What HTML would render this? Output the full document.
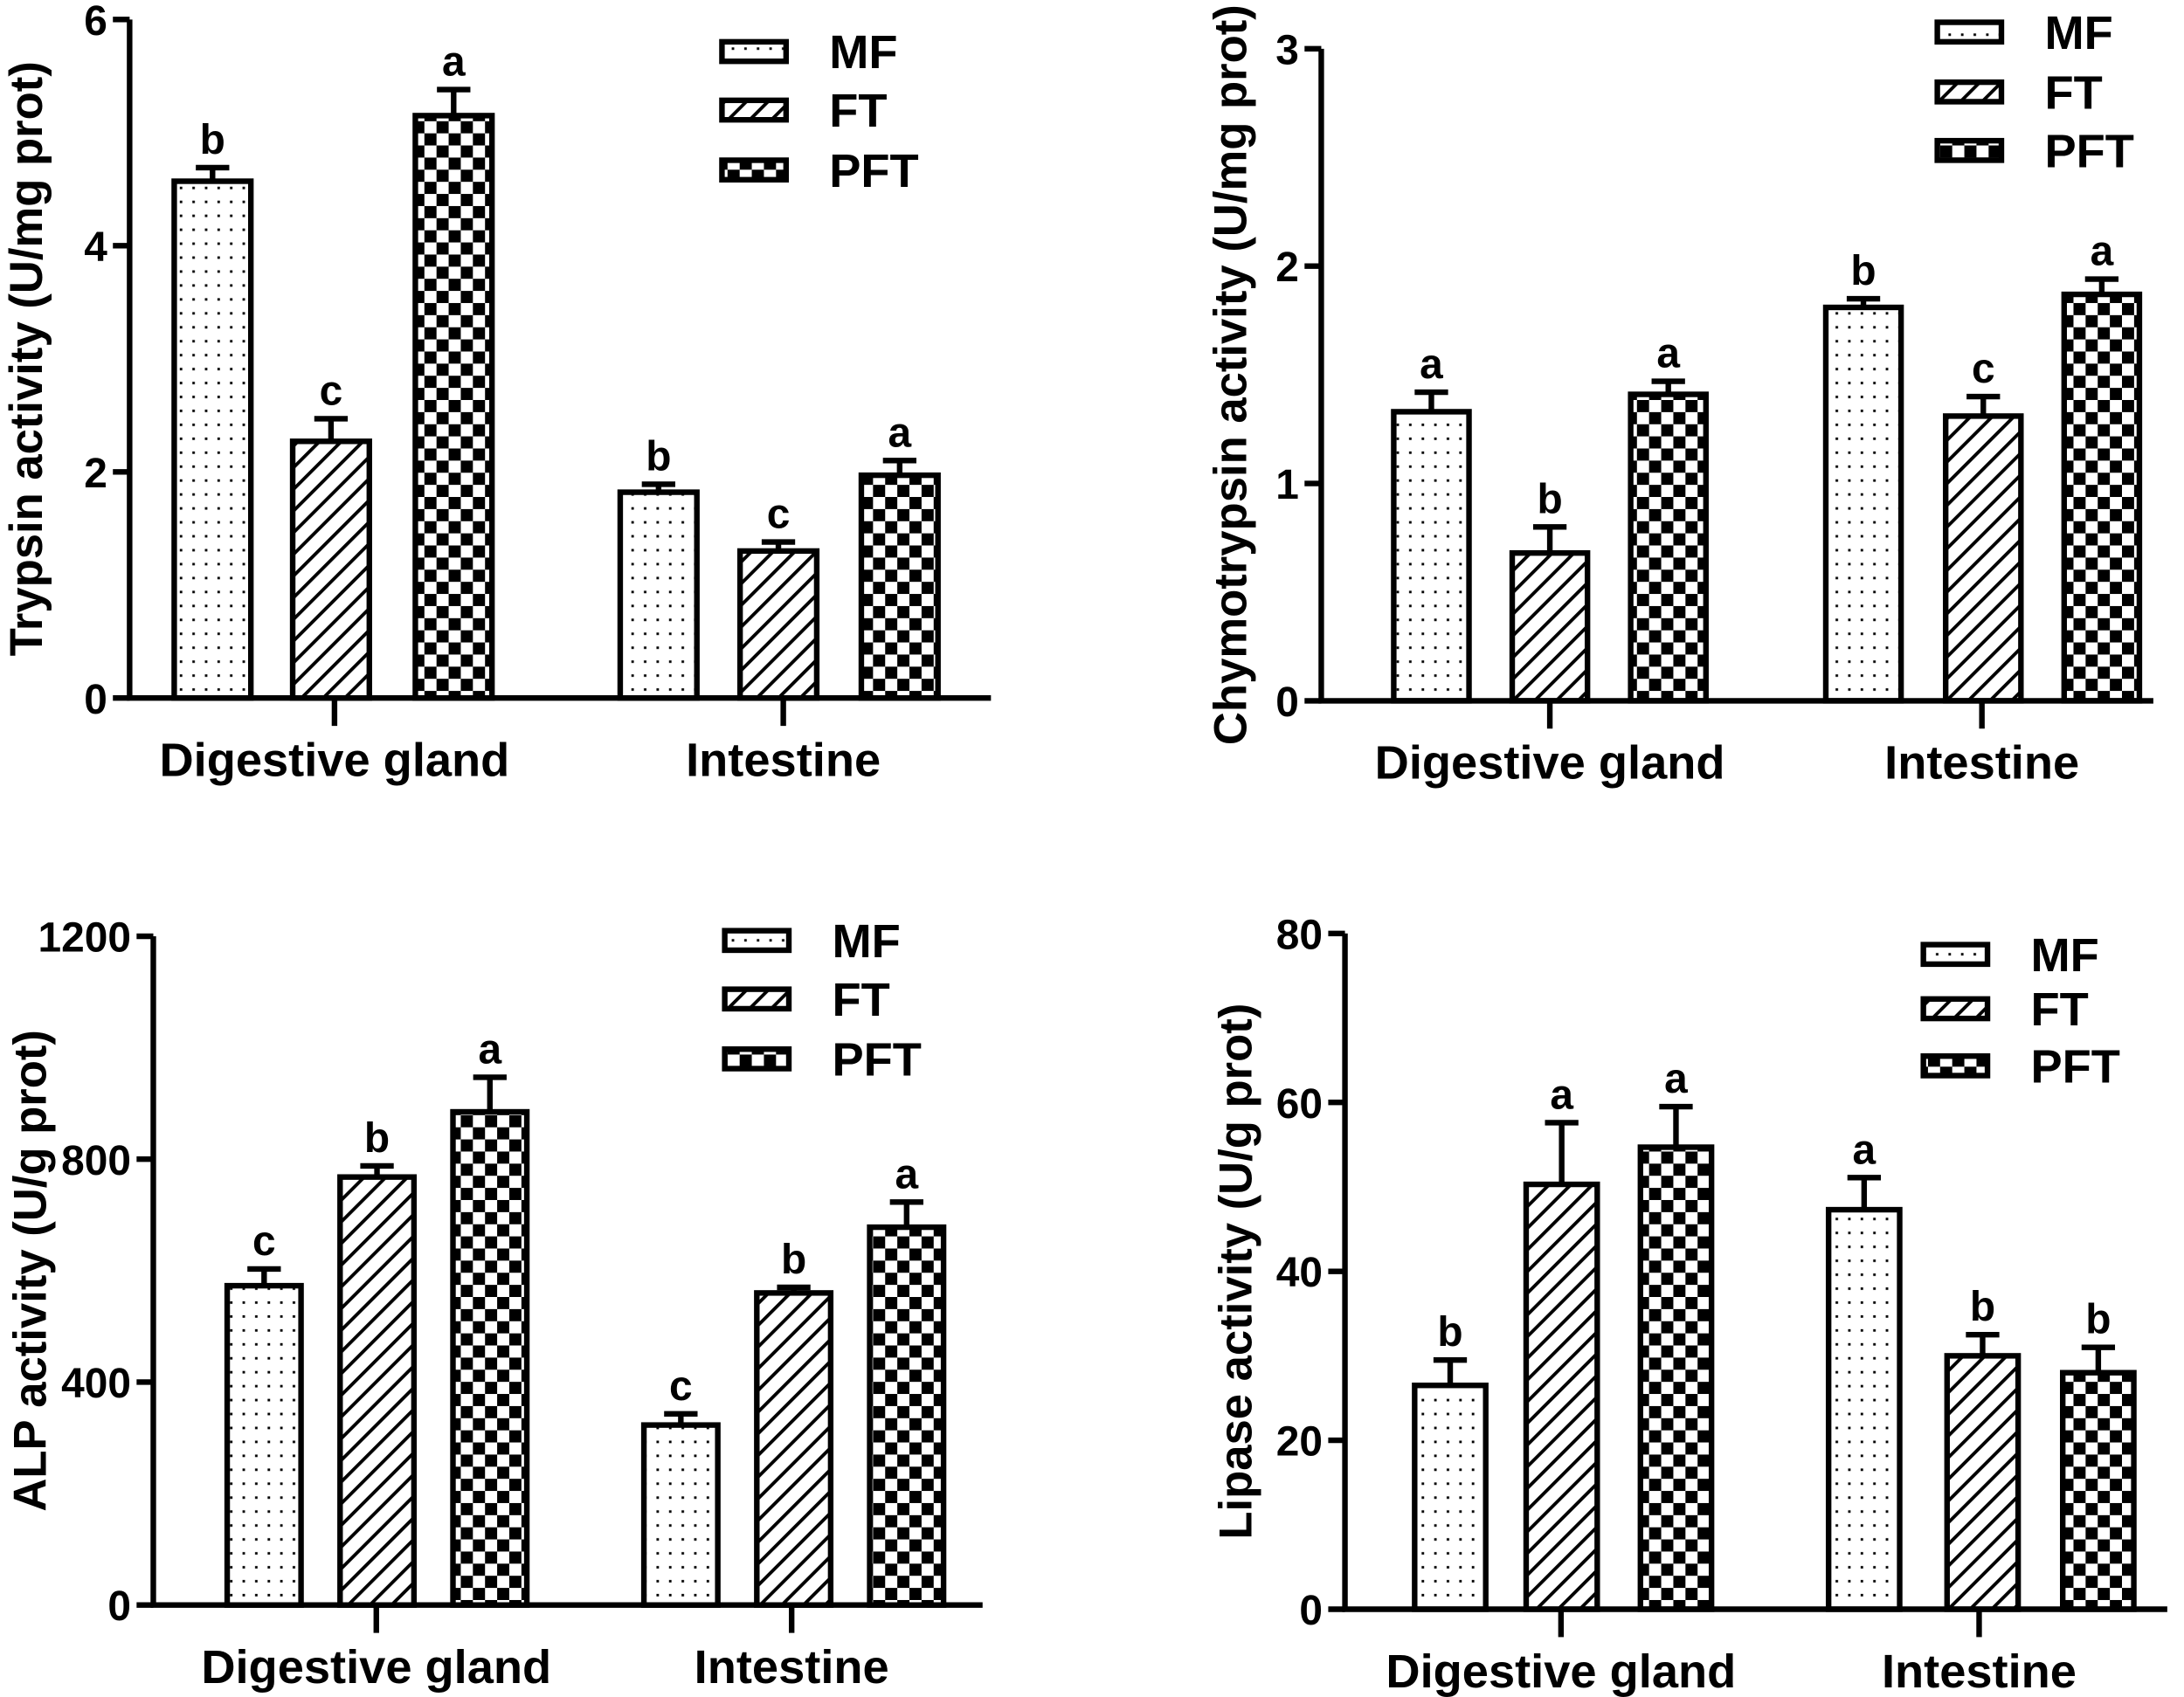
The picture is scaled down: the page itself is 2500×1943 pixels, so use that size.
<!DOCTYPE html>
<html><head><meta charset="utf-8"><style>
html,body{margin:0;padding:0;background:#fff;}
svg{display:block;}
text{font-family:"Liberation Sans",Arial,sans-serif;font-weight:bold;fill:#000;}
</style></head><body>
<svg id="fig" xmlns="http://www.w3.org/2000/svg" width="2500" height="1943" viewBox="0 0 1567 1218" preserveAspectRatio="none">
<defs>
<pattern id="pDots" patternUnits="userSpaceOnUse" width="9" height="10"><rect width="9" height="10" fill="#fff"/><rect x="3" y="4" width="1.8" height="1.8" fill="#000"/></pattern>
<pattern id="pHatch" patternUnits="userSpaceOnUse" width="11" height="11" patternTransform="rotate(45)"><rect width="11" height="11" fill="#fff"/><rect x="0" y="0" width="2.4" height="11" fill="#000"/></pattern>
<pattern id="pCheck" patternUnits="userSpaceOnUse" width="17.4" height="17.4"><rect width="17.4" height="17.4" fill="#fff"/><rect width="8.7" height="8.7" fill="#000"/><rect x="8.7" y="8.7" width="8.7" height="8.7" fill="#000"/></pattern>
</defs>
</svg>
<script>
const groups = ["Digestive gland", "Intestine"];
const seriesNames = ["MF", "FT", "PFT"];
// panel 1: trypsin
const trypsinVals = [[4.57, 2.27, 5.15], [1.82, 1.30, 1.97]];
const trypsinErr = [[0.12, 0.20, 0.23], [0.07, 0.08, 0.13]];
const trypsinLetters = [["b", "c", "a"], ["b", "c", "a"]];
const trypsinTicks = [0, 2, 4, 6];
// panel 2: chymotrypsin
const chymoVals = [[1.33, 0.68, 1.41], [1.81, 1.31, 1.87]];
const chymoErr = [[0.09, 0.12, 0.06], [0.04, 0.09, 0.07]];
const chymoLetters = [["a", "b", "a"], ["b", "c", "a"]];
const chymoTicks = [0, 1, 2, 3];
// panel 3: ALP
const alpVals = [[573, 768, 885], [323, 560, 678]];
const alpErr = [[30, 20, 62], [20, 10, 45]];
const alpLetters = [["c", "b", "a"], ["c", "b", "a"]];
const alpTicks = [0, 400, 800, 1200];
// panel 4: lipase
const lipaseVals = [[26.5, 50.3, 54.7], [47.3, 30.0, 28.0]];
const lipaseErr = [[3.0, 7.3, 4.8], [3.8, 2.5, 3.0]];
const lipaseLetters = [["b", "a", "a"], ["a", "b", "b"]];
const lipaseTicks = [0, 20, 40, 60, 80];

const NS = "http://www.w3.org/2000/svg";
const svg = document.getElementById("fig");
const fills = ["url(#pDots)", "url(#pHatch)", "url(#pCheck)"];
function mk(tag, attrs, parent) {
  const e = document.createElementNS(NS, tag);
  for (const k in attrs) e.setAttribute(k, attrs[k]);
  (parent || svg).appendChild(e);
  return e;
}
const panels = [
  {name:"trypsin", vals:trypsinVals, err:trypsinErr, letters:trypsinLetters, ticks:trypsinTicks, title:"Trypsin activity (U/mg prot)",
   ax:93, y0:501, yTop:14, xEnd:711, max:6, bars:[[125,210,298],[445,531,618]], bw:55, gx:[240,562], titleX:16, leg:{x:518,y:[30,72,115]}},
  {name:"chymotrypsin", vals:chymoVals, err:chymoErr, letters:chymoLetters, ticks:chymoTicks, title:"Chymotrypsin activity (U/mg prot)",
   ax:948, y0:503, yTop:35, xEnd:1545, max:3, bars:[[1000,1085,1170],[1310,1396,1481]], bw:54, gx:[1112,1422], titleX:880, leg:{x:1390,y:[16,59,101]}},
  {name:"alp", vals:alpVals, err:alpErr, letters:alpLetters, ticks:alpTicks, title:"ALP activity (U/g prot)",
   ax:110, y0:1152, yTop:672, xEnd:705, max:1200, bars:[[163,244,325],[462,543,624]], bw:53, gx:[270,568], titleX:19, leg:{x:520,y:[668,710,753]}},
  {name:"lipase", vals:lipaseVals, err:lipaseErr, letters:lipaseLetters, ticks:lipaseTicks, title:"Lipase activity (U/g prot)",
   ax:965, y0:1155, yTop:670, xEnd:1555, max:80, bars:[[1015,1095,1177],[1312,1397,1480]], bw:51, gx:[1120,1420], titleX:884, leg:{x:1380,y:[678,717,758]}}
];
panels.forEach(p => {
  const g = mk("g", {});
  
  
  const y = v => p.y0 - (v / p.max) * (p.y0 - p.yTop);
  p.vals.forEach((grp, gi) => grp.forEach((v, si) => {
    const x = p.bars[gi][si];
    const r = mk("rect", {x:x, y:y(v), width:p.bw, height:p.y0 - y(v), fill:fills[si], stroke:"#000", "stroke-width":4}, g);
    
    
    const cx = x + p.bw / 2, ye = y(v + p.err[gi][si]);
    const eb = mk("path", {d:`M${cx} ${y(v)}V${ye}M${cx-12} ${ye}H${cx+12}`, stroke:"#000", "stroke-width":4, fill:"none"}, g);
    
    
    const t = mk("text", {x:cx, y:ye - 10, "text-anchor":"middle", "font-size":30}, g);
    t.textContent = p.letters[gi][si];
    
    
  }));
  const axes = mk("path", {d:`M${p.ax} ${p.yTop}V${p.y0}H${p.xEnd}`, stroke:"#000", "stroke-width":4, fill:"none"}, g);
  
  
  p.ticks.forEach(tv => {
    mk("path", {d:`M${p.ax-12} ${y(tv)}H${p.ax}`, stroke:"#000", "stroke-width":4}, g);
    const t = mk("text", {x:p.ax - 16, y:y(tv) + 11, "text-anchor":"end", "font-size":30}, g);
    t.textContent = tv;
    
    
  });
  p.gx.forEach((gxv, gi) => {
    mk("path", {d:`M${gxv} ${p.y0}V${p.y0+20}`, stroke:"#000", "stroke-width":4}, g);
    const t = mk("text", {x:gxv, y:p.y0 + 56, "text-anchor":"middle", "font-size":34}, g);
    t.textContent = groups[gi];
    
    
  });
  const yt = mk("text", {x:0, y:0, "text-anchor":"middle", "font-size":33, transform:`translate(${p.titleX + 14},${(p.y0 + p.yTop) / 2}) rotate(-90)`}, g);
  yt.textContent = p.title;
  
  
  seriesNames.forEach((s, si) => {
    const ly = p.leg.y[si];
    const lr = mk("rect", {x:p.leg.x, y:ly, width:46, height:14, fill:fills[si], stroke:"#000", "stroke-width":4}, g);
    
    
    const lt = mk("text", {x:p.leg.x + 77, y:ly + 19, "font-size":34}, g);
    lt.textContent = s;
    
    
  });
});
</script>
</body></html>
